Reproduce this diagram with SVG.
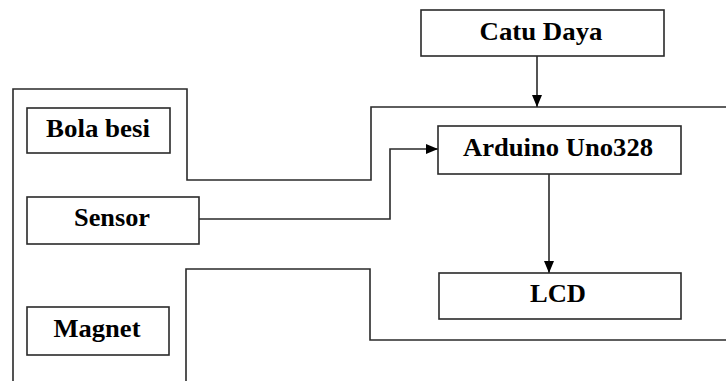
<svg xmlns="http://www.w3.org/2000/svg" width="726" height="381" viewBox="0 0 726 381">
<style>
.box{fill:#fff;stroke:#2a2a2a;stroke-width:1.6}
.lbl{font-family:"Liberation Serif","Times New Roman",serif;font-weight:bold;font-size:25px;fill:#000;text-anchor:middle}
.wire{fill:none;stroke:#2a2a2a;stroke-width:1.6}
</style>
<defs>
<marker id="arr" viewBox="0 0 12 10" refX="12" refY="5" markerWidth="12" markerHeight="10" markerUnits="userSpaceOnUse" orient="auto">
<path d="M0,0 L12,5 L0,10 Z" fill="#000"/>
</marker>
</defs>
<rect width="726" height="381" fill="#fff"/>
<g id="connectors">
<polyline class="wire" points="13,381 13,89 187,89 187,180 371,180 371,107 726,107"/>
<polyline class="wire" points="186,381 186,269 370,269 370,340 726,340"/>
<line class="wire" x1="537" y1="56" x2="537" y2="107" marker-end="url(#arr)"/>
<polyline class="wire" points="199,219 390,219 390,149 438,149" marker-end="url(#arr)"/>
<line class="wire" x1="549" y1="174" x2="549" y2="273" marker-end="url(#arr)"/>
</g>
<g id="catu-daya">
<rect class="box" x="421" y="10" width="243" height="46"/>
<text class="lbl" x="541" y="40" textLength="123" lengthAdjust="spacingAndGlyphs">Catu Daya</text>
</g>
<g id="bola-besi">
<rect class="box" x="27" y="108" width="143" height="45"/>
<text class="lbl" x="98" y="137" textLength="104" lengthAdjust="spacingAndGlyphs">Bola besi</text>
</g>
<g id="arduino">
<rect class="box" x="438" y="126" width="243" height="48"/>
<text class="lbl" x="558" y="156" textLength="190" lengthAdjust="spacingAndGlyphs">Arduino Uno328</text>
</g>
<g id="sensor">
<rect class="box" x="27" y="197" width="172" height="47"/>
<text class="lbl" x="112" y="226" textLength="76" lengthAdjust="spacingAndGlyphs">Sensor</text>
</g>
<g id="lcd">
<rect class="box" x="439" y="273" width="242" height="46"/>
<text class="lbl" x="558" y="302" textLength="56" lengthAdjust="spacingAndGlyphs">LCD</text>
</g>
<g id="magnet">
<rect class="box" x="27" y="307" width="142" height="48"/>
<text class="lbl" x="97" y="337" textLength="87" lengthAdjust="spacingAndGlyphs">Magnet</text>
</g>
</svg>
